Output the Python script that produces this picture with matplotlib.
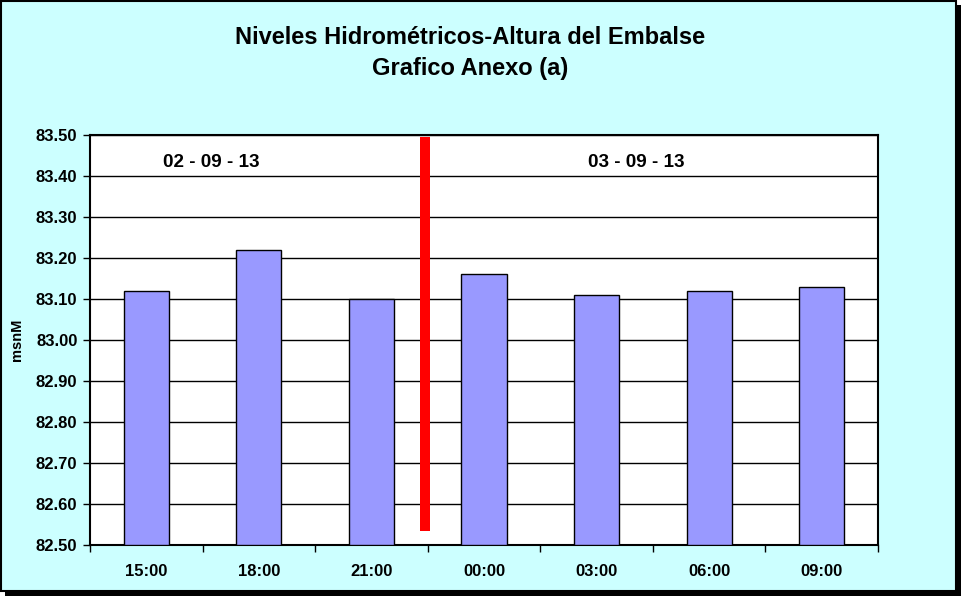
import matplotlib
matplotlib.use("Agg")
import matplotlib.pyplot as plt
from matplotlib.patches import Rectangle
import numpy as np

categories = ["15:00", "18:00", "21:00", "00:00", "03:00", "06:00", "09:00"]
values = [83.12, 83.22, 83.10, 83.16, 83.11, 83.12, 83.13]
yticks = [82.50, 82.60, 82.70, 82.80, 82.90, 83.00, 83.10, 83.20, 83.30, 83.40, 83.50]
date_labels = ["02 - 09 - 13", "03 - 09 - 13"]
date_label_x = [0.575, 4.35]
divider_x = 2.475
divider_range = [82.534, 83.495]

plt.rcParams['font.family'] = ['Liberation Sans', 'DejaVu Sans']

W, H = 961, 596
fig = plt.figure(figsize=(W / 100, H / 100), dpi=100, facecolor='white')

# shadow and frame
fig.patches.append(Rectangle((5 / W, 0), 1 - 5 / W, (H - 5) / H, transform=fig.transFigure,
                             facecolor='black', edgecolor='none', zorder=-3))
fig.patches.append(Rectangle((1 / W, 5 / H), 955 / W, (H - 6) / H, transform=fig.transFigure,
                             facecolor='#CCFFFF', edgecolor='black', linewidth=1.5, zorder=-2))

ax = fig.add_axes([90 / W, 51 / H, 788 / W, 410 / H])
ax.set_facecolor('white')
x = np.arange(len(categories))
ax.bar(x, [v - yticks[0] for v in values], bottom=yticks[0], width=0.4,
       color='#9999FF', edgecolor='black', linewidth=1, zorder=3)

ax.set_xlim(-0.5, len(categories) - 0.5)
ax.set_ylim(yticks[0], yticks[-1])
ax.set_yticks(yticks)
ax.set_yticklabels([f"{t:.2f}" for t in yticks], fontsize=12, fontweight='bold')
ax.yaxis.grid(True, color='black', linewidth=1, zorder=1)
ax.set_axisbelow(True)

# x ticks at category boundaries, labels centered
ax.set_xticks(np.arange(-0.5, len(categories)), minor=False)
ax.set_xticklabels([])
ax.set_xticks(x, minor=True)
ax.set_xticklabels(categories, minor=True, fontsize=12, fontweight='bold')
ax.tick_params(axis='x', which='minor', length=0, pad=14)
ax.tick_params(axis='x', which='major', length=5, width=1, direction='out')
ax.tick_params(axis='y', length=5, width=1, direction='out', pad=4)

for s in ax.spines.values():
    s.set_linewidth(1.5)
    s.set_color('black')

ax.plot([divider_x, divider_x], divider_range, color='#FF0000', linewidth=7.2,
        solid_capstyle='butt', zorder=4)

for lx, lab in zip(date_label_x, date_labels):
    ax.text(lx, 83.432, lab, ha='center', va='center',
            fontsize=13.6, fontweight='bold', zorder=5)

ax.set_ylabel("msnM", fontsize=10.5, fontweight='bold')
ax.yaxis.set_label_coords(-66 / 788, 0.5)

fig.text(470 / W, 1 - 37 / H, "Niveles Hidrométricos-Altura del Embalse", ha='center',
         va='center', fontsize=17, fontweight='bold')
fig.text(470 / W, 1 - 69 / H, "Grafico Anexo (a)", ha='center', va='center',
         fontsize=17, fontweight='bold')

fig.savefig("out.png", dpi=100, facecolor=fig.get_facecolor())
